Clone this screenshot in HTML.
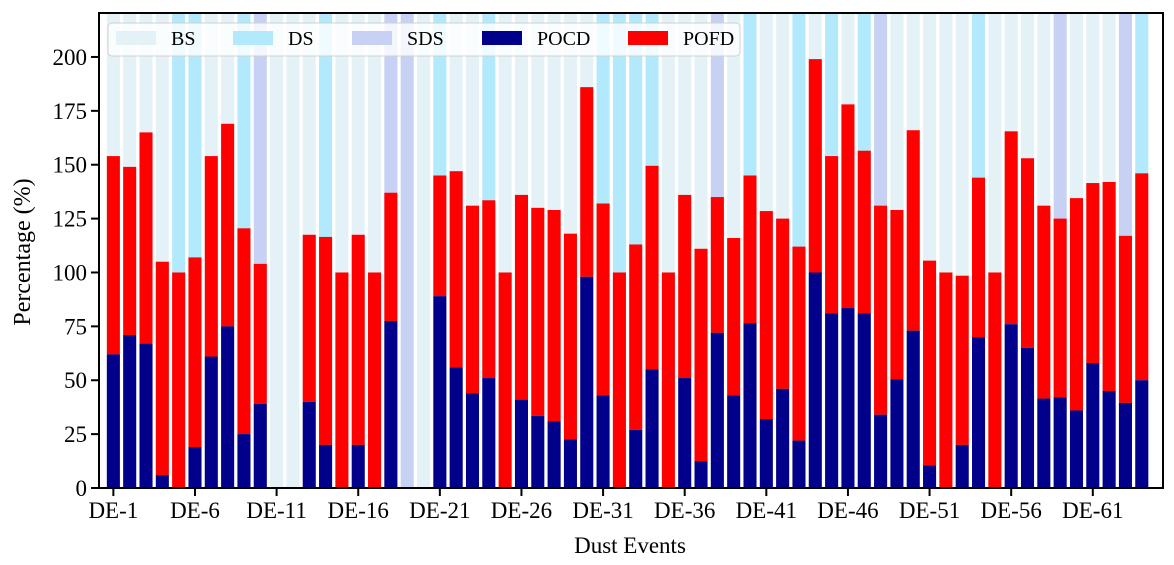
<!DOCTYPE html>
<html><head><meta charset="utf-8"><style>
body{margin:0;background:#fff;}
svg{display:block;font-family:"Liberation Serif",serif;}
</style></head><body>
<svg id="chart" width="1174" height="565">
<g id="bg"></g>
<g id="bars"></g>
<g id="axes"></g>
<g id="legend"></g>
<text x="630" y="553" font-size="23" text-anchor="middle">Dust Events</text>
<text transform="translate(30,252) rotate(-90)" font-size="24" text-anchor="middle">Percentage (%)</text>
</svg>
<script>
const types = ["BS","BS","BS","BS","DS","DS","BS","BS","DS","SDS","BS","BS","BS","DS","BS","BS","BS","SDS","SDS","BS","DS","BS","BS","DS","BS","BS","BS","BS","BS","BS","DS","DS","DS","DS","BS","BS","BS","SDS","BS","DS","BS","BS","DS","BS","DS","BS","DS","SDS","BS","BS","BS","BS","BS","DS","BS","BS","BS","BS","SDS","BS","BS","BS","SDS","DS"];
const totals = [154,149,165,105,100,107,154,169,120.5,104,null,null,117.5,116.5,100,117.5,100,137,null,null,145,147,131,133.5,100,136,130,129,118,186,132,100,113,149.5,100,136,111,135,116,145,128.5,125,112,199,154,178,156.5,131,129,166,105.5,100,98.5,144,100,165.5,153,131,125,134.5,141.5,142,117,146];
const pocd = [62,71,67,6,0,19,61,75,25,39,null,null,40,20,0,20,0,77.5,null,null,89,56,44,51,0,41,33.5,31,22.5,98,43,0,27,55,0,51,12.5,72,43,76.5,32,46,22,100,81,83.5,81,34,50.5,73,10.5,0,20,70,0,76,65,41.5,42,36,58,45,39.5,50];
const yTicks = [0,25,50,75,100,125,150,175,200];
const xTickIdx = [1,6,11,16,21,26,31,36,41,46,51,56,61];

const NS="http://www.w3.org/2000/svg";
const L=99,R=1163,T=13,B=488,XMIN=-0.88,XMAX=64.3,YMAX=220.4,BW=0.8;
const xs=i=>L+(i-XMIN)/(XMAX-XMIN)*(R-L);
const ys=v=>B-v/YMAX*(B-T);
const col={BS:"#e4f2f7",DS:"#b3e9fc",SDS:"#c6d1f3"};
function mk(tag,at,parent){const e=document.createElementNS(NS,tag);for(const k in at)e.setAttribute(k,at[k]);parent.appendChild(e);return e;}
const bg=document.getElementById('bg'),bars=document.getElementById('bars'),ax=document.getElementById('axes'),lg=document.getElementById('legend');
const w=xs(BW)-xs(0);
types.forEach((t,i)=>{
  const r=mk('rect',{x:xs(i)-w/2,y:T,width:w,height:B-T,fill:col[t]},bg);
  
  
  if(totals[i]==null)return;
  const p=pocd[i];
  const rf=mk('rect',{x:xs(i)-w/2,y:ys(totals[i]),width:w,height:ys(p)-ys(totals[i]),fill:"#ff0000"},bars);
  
  
  const rc=mk('rect',{x:xs(i)-w/2,y:ys(p),width:w,height:B-ys(p),fill:"#00008b"},bars);
  
  
});
const f=mk('rect',{x:L,y:T,width:R-L,height:B-T,fill:"none",stroke:"#000","stroke-width":2},ax);


yTicks.forEach(v=>{
  const y=ys(v);
  const tl=mk('line',{x1:L-8,x2:L,y1:y,y2:y,stroke:"#000","stroke-width":2},ax);
  
  
  const tx=mk('text',{x:L-12,y:y+8,"font-size":23,"text-anchor":"end"},ax);
  tx.textContent=v;
  
  
});
xTickIdx.forEach(n=>{
  const x=xs(n-1);
  const tl=mk('line',{x1:x,x2:x,y1:B,y2:B+8,stroke:"#000","stroke-width":2},ax);
  
  
  const tx=mk('text',{x:x,y:B+30,"font-size":23,"text-anchor":"middle"},ax);
  tx.textContent='DE-'+n;
  
  
});
const lb=mk('rect',{x:108,y:23,width:632,height:33,rx:4,fill:"#ffffff","fill-opacity":0.8,stroke:"#d0d0d0"},lg);


const lgItems=[["BS",col.BS,116],["DS",col.DS,233],["SDS",col.SDS,352],["POCD","#00008b",482],["POFD","#ff0000",628]];
lgItems.forEach(([n,c,x])=>{
  const s=mk('rect',{x:x,y:31,width:40,height:14,fill:c},lg);
  
  
  const t=mk('text',{x:x+55,y:45,"font-size":20},lg);
  t.textContent=n;
  
  
});
</script>
</body></html>
